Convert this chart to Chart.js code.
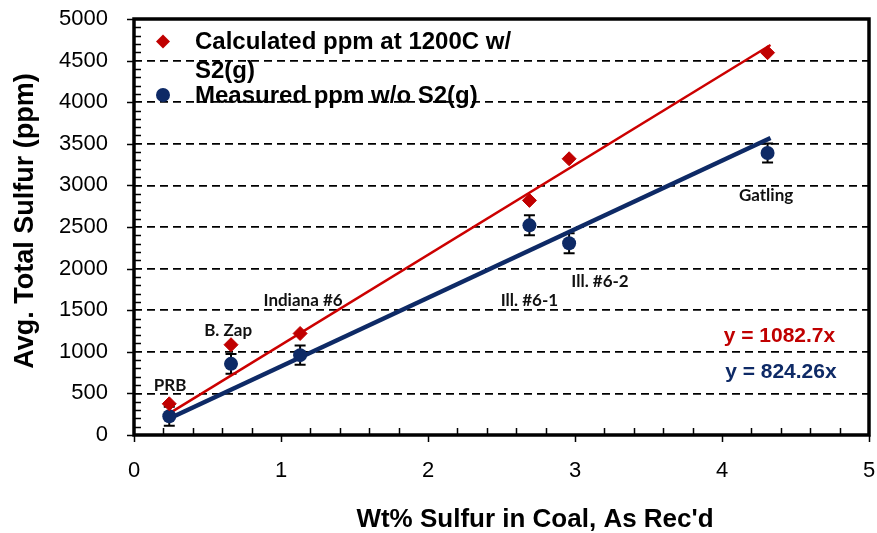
<!DOCTYPE html>
<html>
<head>
<meta charset="utf-8">
<title>Sulfur in coal</title>
<script src="https://cdn.jsdelivr.net/npm/chart.js@4.4.1/dist/chart.umd.min.js"></script>
<style>
  html, body { margin: 0; padding: 0; background: #fff; }
</style>
</head>
<body>
<canvas id="sulfur-chart" width="877" height="533"></canvas>
<script>
// values
const coals = ['PRB', 'B. Zap', 'Indiana #6', 'Ill. #6-1', 'Ill. #6-2', 'Gatling'];
const sulfurWt = [0.24, 0.66, 1.13, 2.69, 2.96, 4.31];
const calcPpm = [375, 1085, 1220, 2820, 3320, 4595];
const measPpm = [225, 855, 960, 2520, 2305, 3390];
const measErr = [115, 120, 115, 120, 120, 115];
const trendX = [0.24, 4.33];
const calcTrend = [260, 4688];
const measTrend = [198, 3569];
const xTicks = [0, 1, 2, 3, 4, 5];
const yTicks = [0, 500, 1000, 1500, 2000, 2500, 3000, 3500, 4000, 4500, 5000];
// where each coal name sits, in axis units
const nameX = [0.245, 0.64, 1.15, 2.69, 3.17, 4.30];
const nameY = [600, 1260, 1620, 1620, 1850, 2875];

const RED = '#C00000';
const NAVY = '#0E2A66';
const FONT = '"Liberation Sans", Arial, sans-serif';

const toPoints = (xs, ys) => xs.map((x, i) => ({ x: x, y: ys[i] }));

const extras = {
    id: 'extras',
    beforeDatasetsDraw(chart) {
        const ctx = chart.ctx;
        const xs = chart.scales.x;
        const ys = chart.scales.y;
        ctx.save();
        ctx.strokeStyle = '#000';
        ctx.lineWidth = 2;
        sulfurWt.forEach((x, i) => {
            const px = xs.getPixelForValue(x);
            const top = ys.getPixelForValue(measPpm[i] + measErr[i]);
            const bot = ys.getPixelForValue(measPpm[i] - measErr[i]);
            ctx.beginPath();
            ctx.moveTo(px, top); ctx.lineTo(px, bot);
            ctx.moveTo(px - 5.5, top); ctx.lineTo(px + 5.5, top);
            ctx.moveTo(px - 5.5, bot); ctx.lineTo(px + 5.5, bot);
            ctx.stroke();
        });
        ctx.restore();
    },
    afterDatasetsDraw(chart) {
        const ctx = chart.ctx;
        const xs = chart.scales.x;
        const ys = chart.scales.y;
        const area = chart.chartArea;
        ctx.save();

        // coal names
        ctx.fillStyle = '#111';
        ctx.font = 'bold 17px Lato, "Open Sans", sans-serif';
        ctx.textAlign = 'center';
        ctx.textBaseline = 'middle';
        coals.forEach((name, i) => {
            ctx.fillText(name, xs.getPixelForValue(nameX[i]), ys.getPixelForValue(nameY[i]));
        });

        // fit equations
        ctx.font = 'bold 21px ' + FONT;
        ctx.textAlign = 'right';
        ctx.fillStyle = RED;
        ctx.fillText('y = 1082.7x', xs.getPixelForValue(4.77), ys.getPixelForValue(1190));
        ctx.fillStyle = NAVY;
        ctx.fillText('y = 824.26x', xs.getPixelForValue(4.78), ys.getPixelForValue(755));

        // legend
        const lx = area.left + 29;
        ctx.fillStyle = RED;
        ctx.beginPath();
        ctx.moveTo(lx, 34.5); ctx.lineTo(lx + 7, 41.5); ctx.lineTo(lx, 48.5); ctx.lineTo(lx - 7, 41.5);
        ctx.closePath();
        ctx.fill();
        ctx.fillStyle = NAVY;
        ctx.beginPath();
        ctx.arc(lx, 95, 7, 0, Math.PI * 2);
        ctx.fill();
        ctx.fillStyle = '#000';
        ctx.font = 'bold 24px ' + FONT;
        ctx.textAlign = 'left';
        ctx.textBaseline = 'alphabetic';
        ctx.fillText('Calculated ppm at 1200C w/', 195, 49);
        ctx.fillText('S2(g)', 195, 78);
        ctx.fillText('Measured ppm w/o S2(g)', 195, 103);
        ctx.restore();
    },
    afterDraw(chart) {
        const ctx = chart.ctx;
        const xs = chart.scales.x;
        const ys = chart.scales.y;
        const area = chart.chartArea;
        ctx.save();
        ctx.strokeStyle = '#000';

        // tick marks: majors outside, minors inside
        ctx.lineWidth = 1.5;
        ctx.beginPath();
        for (let v = 0; v <= 5000; v += 100) {
            const py = Math.round(ys.getPixelForValue(v)) + 0.5;
            if (v % 500 === 0) {
                ctx.moveTo(area.left - 7, py); ctx.lineTo(area.left, py);
            } else {
                ctx.moveTo(area.left, py); ctx.lineTo(area.left + 7, py);
            }
        }
        for (let k = 0; k <= 25; k++) {
            const px = Math.round(xs.getPixelForValue(k / 5)) + 0.5;
            if (k % 5 === 0) {
                ctx.moveTo(px, area.bottom); ctx.lineTo(px, area.bottom + 7);
            } else {
                ctx.moveTo(px, area.bottom); ctx.lineTo(px, area.bottom - 7);
            }
        }
        ctx.stroke();

        // plot frame
        ctx.lineWidth = 3.5;
        ctx.strokeRect(area.left, area.top, area.right - area.left, area.bottom - area.top);

        // axis titles
        ctx.fillStyle = '#000';
        ctx.font = 'bold 26px ' + FONT;
        ctx.textAlign = 'center';
        ctx.textBaseline = 'alphabetic';
        ctx.fillText("Wt% Sulfur in Coal, As Rec'd", 535, 527);
        ctx.translate(33, 221);
        ctx.rotate(-Math.PI / 2);
        ctx.font = 'bold 27px ' + FONT;
        ctx.fillText('Avg. Total Sulfur (ppm)', 0, 0);
        ctx.restore();
    }
};

const ctx = document.getElementById('sulfur-chart').getContext('2d');
const sulfurChart = new Chart(ctx, {
    type: 'scatter',
    data: {
        datasets: [
            {
                label: 'Calculated ppm at 1200C w/ S2(g)',
                data: toPoints(sulfurWt, calcPpm),
                pointStyle: 'rectRot',
                pointRadius: 7,
                backgroundColor: RED,
                borderColor: RED,
                borderWidth: 1,
                order: 0
            },
            {
                label: 'Measured ppm w/o S2(g)',
                data: toPoints(sulfurWt, measPpm),
                pointStyle: 'circle',
                pointRadius: 7,
                backgroundColor: NAVY,
                borderColor: NAVY,
                borderWidth: 0,
                order: 1
            },
            {
                label: 'calc fit',
                data: toPoints(trendX, calcTrend),
                showLine: true,
                pointRadius: 0,
                borderColor: '#CC0000',
                borderWidth: 2.5,
                order: 3
            },
            {
                label: 'meas fit',
                data: toPoints(trendX, measTrend),
                showLine: true,
                pointRadius: 0,
                borderColor: NAVY,
                borderWidth: 4.5,
                order: 2
            }
        ]
    },
    options: {
        responsive: false,
        animation: false,
        devicePixelRatio: 1,
        layout: { padding: { top: 19, right: 6, left: 0, bottom: 0 } },
        plugins: {
            legend: { display: false },
            tooltip: { enabled: false }
        },
        scales: {
            x: {
                type: 'linear',
                min: 0,
                max: 5,
                afterBuildTicks: (s) => { s.ticks = xTicks.map(v => ({ value: v })); },
                ticks: {
                    color: '#000',
                    padding: 23,
                    font: { family: FONT, size: 22 },
                    callback: (v) => String(v)
                },
                grid: { display: false, drawTicks: false },
                border: { display: false },
                afterFit: (s) => { s.height = 98; s.paddingLeft = 0; s.paddingRight = 0; }
            },
            y: {
                type: 'linear',
                min: 0,
                max: 5000,
                afterBuildTicks: (s) => { s.ticks = yTicks.map(v => ({ value: v })); },
                ticks: {
                    color: '#000',
                    padding: 26,
                    font: { family: FONT, size: 22 },
                    callback: (v) => String(v)
                },
                grid: { color: '#000', lineWidth: 1.8, drawTicks: false },
                border: { display: false, dash: [8, 5] },
                afterFit: (s) => { s.width = 134; s.paddingTop = 0; s.paddingBottom = 0; }
            }
        }
    },
    plugins: [extras]
});
</script>
</body>
</html>
